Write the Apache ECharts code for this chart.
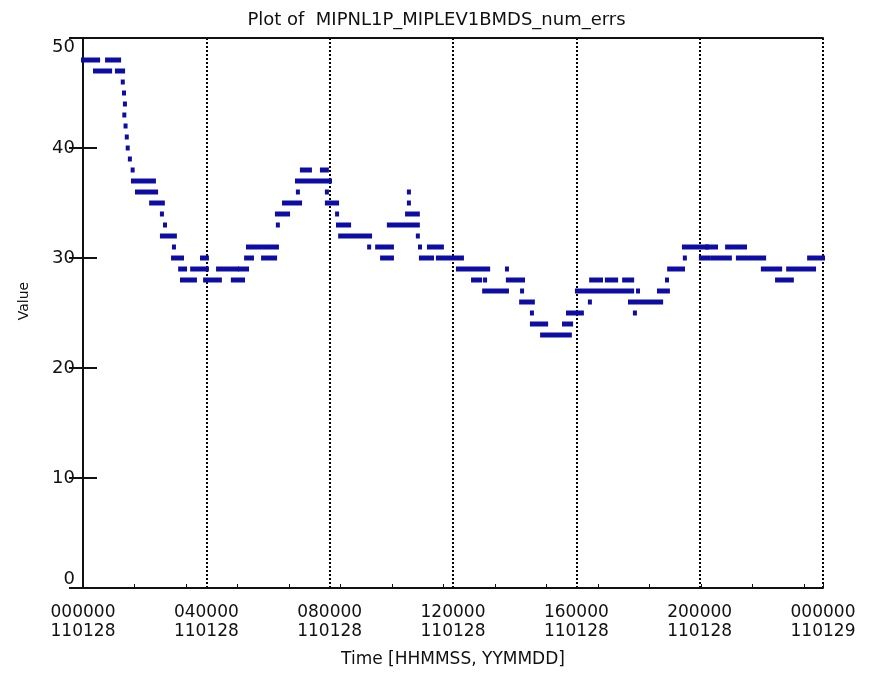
<!DOCTYPE html>
<html>
<head>
<meta charset="utf-8">
<title>MIPNL1P_MIPLEV1BMDS_num_errs</title>
<script src="https://cdn.jsdelivr.net/npm/echarts@6/dist/echarts.min.js"></script>
<style>
  html, body { margin: 0; padding: 0; background: #fff; }
  #chart { width: 873px; height: 675px; }
</style>
</head>
<body>
<div id="chart"></div>
<script>
  // runs of samples at the same value: start hour, end hour, value (single samples have start == end)
  var runStart = [0, 0.78, 0.39, 1.10, 1.29, 1.33, 1.36, 1.34, 1.38, 1.42, 1.45, 1.52, 1.61,
    1.62, 1.75, 2.21, 2.56, 2.66, 2.56, 2.95, 2.92, 3.86, 3.15, 3.54, 4.38, 5.09, 3.21, 3.96, 4.86,
    5.29, 5.84, 5.35, 6.32, 6.29, 6.52, 6.97, 7.91, 6.94, 7.10, 7.75, 7.91, 8.24, 8.27, 8.34,
    9.28, 9.54, 10.93, 11.22, 9.70, 10.96, 11.51, 9.92, 10.51, 10.57, 10.57, 10.86,
    12.16, 13.75, 12.65, 13.04, 13.78, 13.01, 14.24, 14.21, 14.56, 15.73, 14.56, 15.60, 14.89,
    16.44, 17.74, 17.90, 16.02, 18.00, 18.68, 16.48, 16.99, 17.55, 18.94,
    19.01, 22.05, 22.87, 19.52, 20.04, 20.43, 21.24, 23.55, 19.49, 20.24, 20.89, 22.51];
  var runEnd = [0.49, 1.17, 0.88, 1.30, 1.29, 1.33, 1.36, 1.34, 1.38, 1.42, 1.45, 1.52, 1.61,
    2.30, 2.37, 2.59, 2.56, 2.66, 2.98, 2.95, 3.21, 4.02, 3.31, 4.02, 4.99, 5.32, 3.63, 4.44, 5.19,
    5.48, 6.23, 6.29, 6.32, 6.65, 7.04, 6.97, 7.91, 8.01, 7.36, 7.91, 8.24, 8.24, 8.63, 9.31,
    9.28, 10.02, 10.93, 11.64, 10.02, 11.32, 12.29, 10.86, 10.86, 10.57, 10.57, 10.86,
    13.14, 13.75, 12.88, 13.04, 14.27, 13.75, 14.24, 14.59, 14.56, 16.18, 15.02, 15.83, 15.79,
    16.44, 18.75, 17.90, 17.81, 18.00, 18.97, 16.80, 17.29, 17.81, 18.94,
    19.46, 22.61, 23.71, 19.52, 20.30, 20.98, 22.09, 24.00, 20.24, 20.53, 21.47, 22.99];
  var runValue = [48, 48, 47, 47, 46, 45, 44, 43, 42, 41, 40, 39, 38,
    37, 36, 35, 34, 33, 32, 31, 30, 30, 29, 29, 29, 29, 28, 28, 28,
    30, 30, 31, 33, 34, 35, 36, 36, 37, 38, 38, 35, 34, 33, 32,
    31, 31, 31, 31, 30, 30, 30, 33, 34, 35, 36, 32,
    29, 29, 28, 28, 28, 27, 27, 26, 25, 25, 24, 24, 23,
    26, 26, 25, 27, 27, 27, 28, 28, 28, 28,
    29, 29, 29, 30, 30, 30, 30, 30, 31, 31, 31, 28];

  // tick labels: time of day, date
  var xTicks = [0, 4, 8, 12, 16, 20, 24];
  var xTickLabels = ['000000\n110128', '040000\n110128', '080000\n110128', '120000\n110128',
    '160000\n110128', '200000\n110128', '000000\n110129'];

  var markColor = '#0d0da6';
  var font = 'DejaVu Sans';

  var chart = echarts.init(document.getElementById('chart'));

  function renderRun(params, api) {
    var p0 = api.coord([api.value(0), api.value(2)]);
    var p1 = api.coord([api.value(1), api.value(2)]);
    return {
      type: 'rect',
      shape: {x: p0[0] - 2, y: p0[1] - 2.5, width: p1[0] - p0[0] + 4, height: 5},
      style: {fill: markColor}
    };
  }

  var option = {
    backgroundColor: '#fff',
    animation: false,
    title: {
      text: 'Plot of  MIPNL1P_MIPLEV1BMDS_num_errs',
      left: 'center',
      top: 6,
      textStyle: {fontFamily: font, fontSize: 18, fontWeight: 'normal', color: '#111'}
    },
    grid: {left: 83, right: 50, top: 38, bottom: 87},
    xAxis: [
      {
        type: 'value',
        min: 0,
        max: 24,
        interval: 4,
        name: 'Time [HHMMSS, YYMMDD]',
        nameLocation: 'middle',
        nameGap: 63,
        nameTextStyle: {fontFamily: font, fontSize: 17, color: '#111'},
        axisLine: {show: true, lineStyle: {color: '#111', width: 2}},
        axisTick: {show: false},
        axisLabel: {
          fontFamily: font, fontSize: 17, color: '#111', margin: 15, lineHeight: 19,
          formatter: function (v) {
            return xTickLabels[xTicks.indexOf(v)];
          }
        },
        splitLine: {show: true, lineStyle: {color: '#000', width: 2, type: [2, 2]}}
      },
      {
        // small ticks along the bottom edge
        type: 'value',
        position: 'bottom',
        min: 0,
        max: 14.37,
        interval: 1,
        axisLine: {show: false},
        axisTick: {show: true, inside: true, length: 4, lineStyle: {color: '#111'}},
        axisLabel: {show: false},
        splitLine: {show: false}
      },
      {
        // top frame
        type: 'value',
        position: 'top',
        min: 0,
        max: 24,
        axisLine: {show: true, onZero: false, lineStyle: {color: '#111', width: 2}},
        axisTick: {show: false},
        axisLabel: {show: false},
        splitLine: {show: false}
      }
    ],
    yAxis: [
      {
        type: 'value',
        min: 0,
        max: 50,
        interval: 10,
        name: 'Value',
        nameLocation: 'middle',
        nameGap: 52,
        nameTextStyle: {fontFamily: font, fontSize: 14, color: '#111', padding: [0, 0, 0, 24]},
        axisLine: {show: true, lineStyle: {color: '#111', width: 2}},
        axisTick: {show: true, inside: true, length: 14, lineStyle: {color: '#111', width: 2}},
        axisLabel: {
          fontFamily: font, fontSize: 18, color: '#111', margin: 8,
          verticalAlignMinLabel: 'bottom',
          verticalAlignMaxLabel: 'top'
        },
        splitLine: {show: false}
      },
      {
        type: 'value',
        position: 'right',
        min: 0,
        max: 50,
        interval: 10,
        axisLine: {show: true, lineStyle: {color: '#111', width: 2}},
        axisTick: {show: true, inside: true, length: 14, lineStyle: {color: '#111', width: 2}},
        axisLabel: {show: false},
        splitLine: {show: false}
      }
    ],
    series: [{
      type: 'custom',
      xAxisIndex: 0,
      yAxisIndex: 0,
      renderItem: renderRun,
      encode: {x: [0, 1], y: 2},
      data: runStart.map(function (s, i) {
        return [s, runEnd[i], runValue[i]];
      })
    }]
  };

  chart.setOption(option);
</script>
</body>
</html>
